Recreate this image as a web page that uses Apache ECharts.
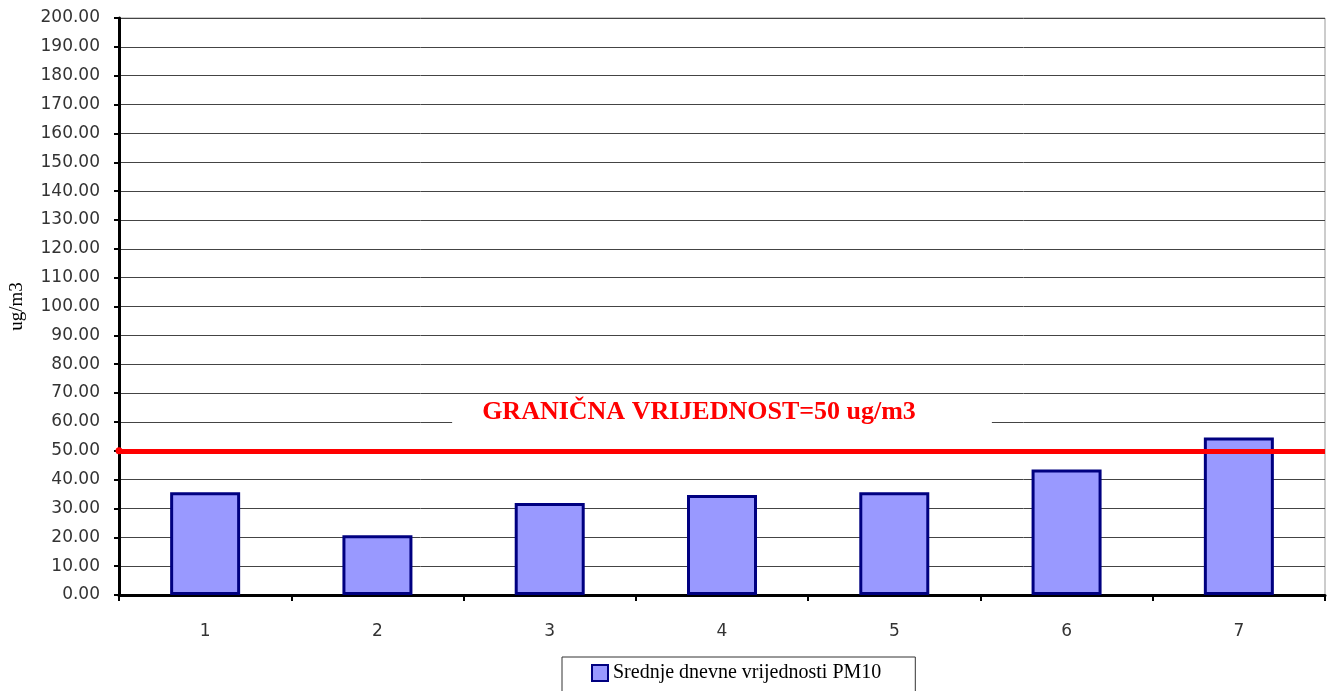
<!DOCTYPE html>
<html>
<head>
<meta charset="utf-8">
<script src="https://cdn.jsdelivr.net/npm/echarts@6/dist/echarts.min.js"></script>
<style>
    html, body { margin: 0; padding: 0; background: #fff; }
    #chart { width: 1331px; height: 691px; }
</style>
</head>
<body>
<div id="chart"></div>
<script>
// podaci sa slike
var dani = ['1', '2', '3', '4', '5', '6', '7'];
var pm10_vrijednosti = [35.6, 20.7, 31.9, 34.7, 35.6, 43.5, 54.6];
var granicna_vrijednost = 50;
var naziv_serije = 'Srednje dnevne vrijednosti PM10';
var granica_tekst = 'GRANIČNA VRIJEDNOST=50 ug/m3';

var chart = echarts.init(document.getElementById('chart'));

var option = {
    animation: false,
    backgroundColor: '#fff',
    grid: {
        left: 119,
        right: 6,
        top: 18,
        bottom: 96,
        show: true,
        borderColor: '#999',
        borderWidth: 1
    },
    legend: {
        data: [naziv_serije],
        icon: 'rect',
        top: 657,
        left: 562,
        itemWidth: 16,
        itemHeight: 16,
        itemGap: 4,
        borderColor: '#333',
        borderWidth: 1,
        padding: [6, 34, 14, 29],
        textStyle: {
            fontFamily: 'Liberation Serif',
            fontSize: 20,
            color: '#000'
        }
    },
    xAxis: {
        type: 'category',
        data: dani,
        boundaryGap: true,
        axisLine: { lineStyle: { color: '#000', width: 3 } },
        axisTick: { show: true, length: 6, lineStyle: { color: '#000', width: 2 } },
        axisLabel: { margin: 28, fontFamily: 'DejaVu Sans', fontSize: 17, color: '#333' },
        splitLine: { show: false }
    },
    yAxis: {
        type: 'value',
        min: 0,
        max: 200,
        interval: 10,
        name: 'ug/m3',
        nameLocation: 'middle',
        nameGap: 92,
        nameTextStyle: { fontFamily: 'Liberation Serif', fontSize: 19, color: '#000' },
        axisLine: { show: true, lineStyle: { color: '#000', width: 3 } },
        axisTick: { show: true, length: 5, lineStyle: { color: '#000', width: 2 } },
        axisLabel: {
            margin: 19,
            fontFamily: 'DejaVu Sans',
            fontSize: 17,
            color: '#333',
            formatter: function (v) { return v.toFixed(2); }
        },
        splitLine: { show: true, lineStyle: { color: '#444', width: 1 } }
    },
    series: [
        {
            name: naziv_serije,
            type: 'bar',
            data: pm10_vrijednosti,
            barWidth: 70,
            itemStyle: {
                color: '#9999FF',
                borderColor: '#000080',
                borderWidth: 3
            },
            markLine: {
                silent: true,
                symbol: ['circle', 'none'],
                symbolSize: 7,
                lineStyle: { color: '#FF0000', width: 5, type: 'solid' },
                label: {
                    show: true,
                    position: 'insideMiddleTop',
                    distance: 24,
                    formatter: granica_tekst,
                    fontFamily: 'Liberation Serif',
                    fontWeight: 'bold',
                    fontSize: 26,
                    color: '#FF0000',
                    backgroundColor: '#fff',
                    padding: [2, 76, 1, 30]
                },
                data: [{ yAxis: granicna_vrijednost }]
            }
        }
    ]
};

chart.setOption(option);
</script>
</body>
</html>
